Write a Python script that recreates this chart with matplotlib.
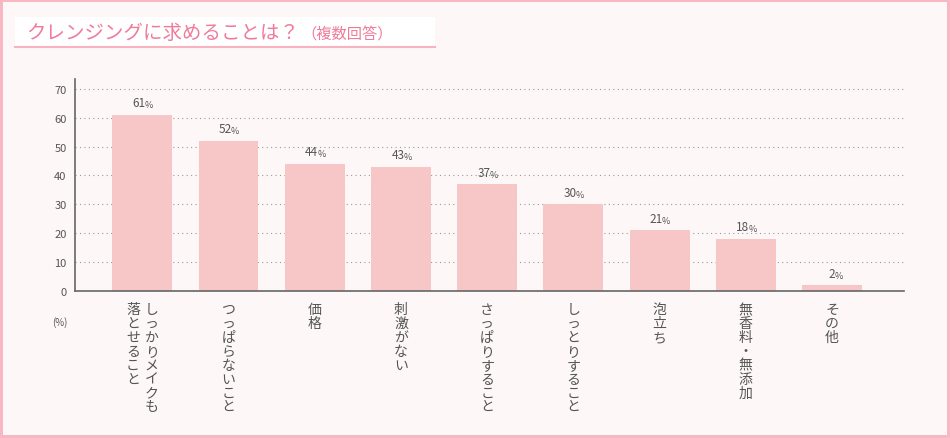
import matplotlib
matplotlib.use("Agg")
import matplotlib.pyplot as plt
from matplotlib.patches import Rectangle
from matplotlib.lines import Line2D

plt.rcParams['font.family'] = ['Noto Sans CJK JP', 'DejaVu Sans']

categories = [["しっかりメイクも", "落とせること"], ["つっぱらないこと"], ["価格"], ["刺激がない"],
              ["さっぱりすること"], ["しっとりすること"], ["泡立ち"], ["無香料・無添加"], ["その他"]]
values = [61, 52, 44, 43, 37, 30, 21, 18, 2]
yticks = [0, 10, 20, 30, 40, 50, 60, 70]
title = "クレンジングに求めることは？"
subtitle = "（複数回答）"

W, H = 950, 439
fig = plt.figure(figsize=(W / 100, H / 100), dpi=100)
fig.patch.set_facecolor('#f8b7c2')
bg = Rectangle((3 / W, 3 / H), 1 - 6 / W, 1 - 6 / H, transform=fig.transFigure,
               facecolor='#fef7f7', edgecolor='none', zorder=-10)
fig.patches.append(bg)

# title box
tb = Rectangle((15 / W, 1 - 48 / H), 420 / W, 30 / H, transform=fig.transFigure,
               facecolor='white', edgecolor='none', zorder=-5)
fig.patches.append(tb)
fig.lines.append(Line2D([15 / W, 435 / W], [1 - 48 / H, 1 - 48 / H], transform=fig.transFigure,
                        color='#f7b3c0', lw=1.5, zorder=-4))
t1 = fig.text(26 / W, 1 - 33 / H, title, fontsize=14, color='#f07a9a', va='center', ha='left')
fig.canvas.draw()
bb = t1.get_window_extent()
fig.text(bb.x1 / W + 2 / W, 1 - 34 / H, subtitle, fontsize=11, color='#f07a9a', va='center', ha='left')

ax = fig.add_axes([75 / W, 1 - 292 / H, (904 - 75) / W, (292 - 80) / H], zorder=5)
ax.set_facecolor('none')
x = list(range(len(values)))
ax.bar(x, values, width=0.695, color='#f7c6c6', zorder=2)
ax.set_xlim(-0.78, len(values) - 1 + 0.835)
ax.set_ylim(0, 73.4)
ax.set_yticks(yticks)
ax.set_yticklabels([str(v) for v in yticks], fontsize=8, color='#555555')
ax.tick_params(axis='y', length=0, pad=6)
ax.set_xticks([])
for s in ['top', 'right']:
    ax.spines[s].set_visible(False)
for s in ['left', 'bottom']:
    ax.spines[s].set_color('#666666')
    ax.spines[s].set_linewidth(1.2)
for v in yticks[1:]:
    ax.axhline(v, color='#9a9a9a', lw=0.8, linestyle=(0, (1, 3)), zorder=1)

for i, v in enumerate(values):
    ax.annotate(str(v), xy=(i, v), xytext=(2.5, 4), textcoords='offset points',
                ha='right', va='bottom', fontsize=8.5, color='#555555')
    ax.annotate('%', xy=(i, v), xytext=(1.8, 4), textcoords='offset points',
                ha='left', va='bottom', fontsize=6.5, color='#555555')

for i, cols in enumerate(categories):
    n = len(cols)
    for k, col in enumerate(cols):
        dx = ((n - 1) / 2 - k) * 13.5
        ax.annotate('\n'.join(col), xy=(i, 0), xycoords=('data', 'axes fraction'),
                    xytext=(dx, -8), textcoords='offset points', ha='center', va='top',
                    fontsize=10, color='#555555', linespacing=0.99, annotation_clip=False)

fig.text(60 / W, 1 - 323 / H, '(%)', fontsize=7, color='#555555', ha='center', va='center')

fig.savefig('out.png', dpi=100, facecolor=fig.get_facecolor())
